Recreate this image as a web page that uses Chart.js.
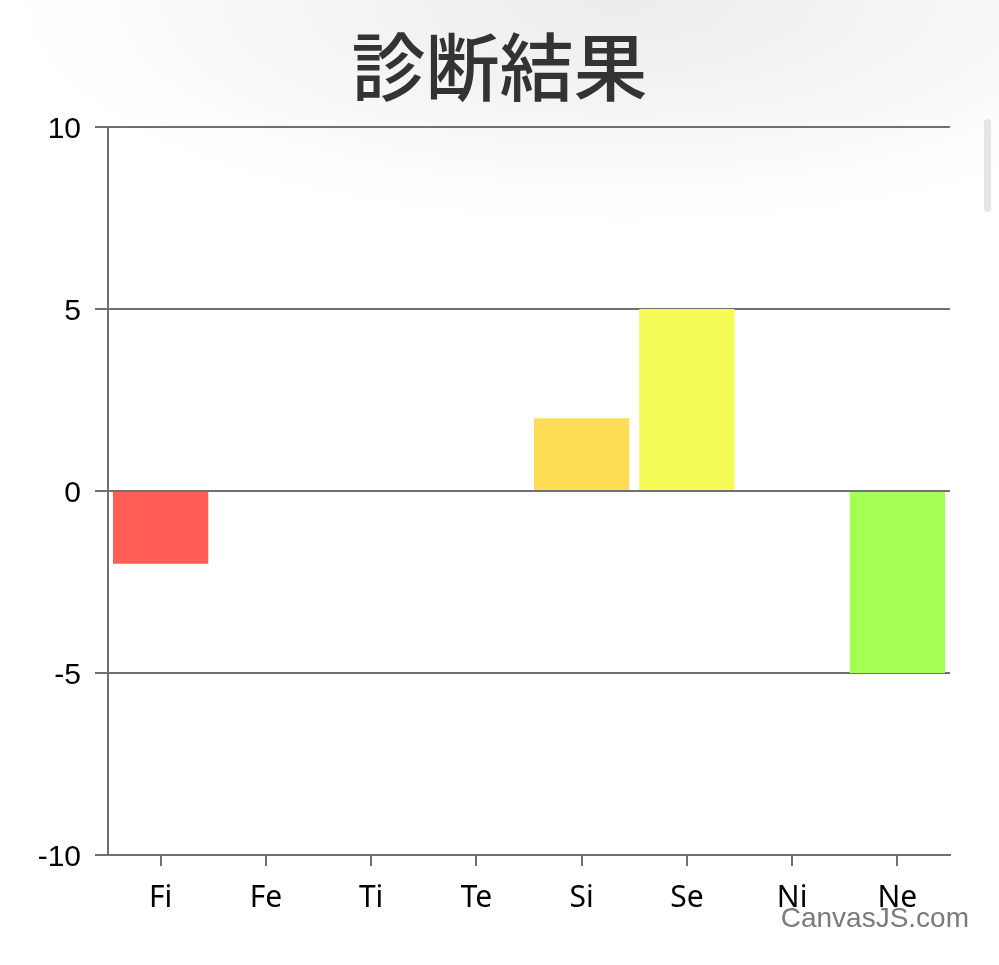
<!DOCTYPE html>
<html>
<head>
<meta charset="utf-8">
<script src="https://cdn.jsdelivr.net/npm/chart.js@4.4.1/dist/chart.umd.min.js"></script>
<style>
  html, body { margin: 0; padding: 0; width: 999px; height: 965px; overflow: hidden; }
  body {
    background:
      radial-gradient(ellipse 620px 230px at 62% 0%, #ececec 0%, #f4f4f4 45%, #fcfcfc 80%, #ffffff 100%),
      #ffffff;
    position: relative;
  }
  #wrap { position: absolute; left: 0; top: 0; width: 999px; height: 965px; }
  #scrollbar { position: absolute; left: 984px; top: 119px; width: 7px; height: 93px; background: #e6e6e6; border-radius: 4px; }
  #credit { position: absolute; right: 30px; top: 903px; font-family: "Liberation Sans", Arial, sans-serif; font-size: 28px; color: #7a7a7a; line-height: 30px; }
</style>
</head>
<body>
<div id="wrap"><canvas id="c" width="999" height="965"></canvas></div>
<div id="scrollbar"></div>
<div id="credit">CanvasJS.com</div>
<script>
const chartTitle = "診断結果";
const categories = ["Fi", "Fe", "Ti", "Te", "Si", "Se", "Ni", "Ne"];
const values = [-2, 0, 0, 0, 2, 5, 0, -5];
const barColors = ["#ff5d56", "#ffdd55", "#ffdd55", "#ffdd55", "#ffdd55", "#f5fb57", "#a6ff55", "#a6ff55"];
const yMin = -10, yMax = 10, yStep = 5;

const gridColor = "#707070";

new Chart(document.getElementById("c"), {
  type: "bar",
  data: {
    labels: categories,
    datasets: [{
      data: values,
      backgroundColor: barColors,
      borderWidth: 0,
      barPercentage: 0.905,
      categoryPercentage: 1.0
    }]
  },
  options: {
    responsive: false,
    devicePixelRatio: 1,
    animation: false,
    events: [],
    layout: { padding: { left: 0, right: 0, top: 0, bottom: 0 } },
    plugins: {
      legend: { display: false },
      tooltip: { enabled: false },
      title: {
        display: true,
        text: chartTitle,
        color: "#333333",
        font: { family: "'Noto Sans CJK JP', 'Noto Sans CJK SC', sans-serif", size: 74, weight: 500, lineHeight: 1 },
        padding: { top: 30, bottom: 23 }
      }
    },
    scales: {
      x: {
        grid: { offset: false, drawOnChartArea: false, drawTicks: true, tickLength: 11, color: gridColor, lineWidth: 2 },
        border: { display: true, color: gridColor, width: 2 },
        ticks: { color: "#000000", padding: 14, font: { family: "'Noto Sans', sans-serif", size: 30 } },
        afterFit: (s) => { s.height = 110; }
      },
      y: {
        min: yMin,
        max: yMax,
        grid: { color: gridColor, lineWidth: 2, tickLength: 13, drawTicks: true },
        border: { display: true, color: gridColor, width: 2 },
        ticks: { stepSize: yStep, color: "#000000", padding: 14, labelOffset: 3, font: { family: "'Liberation Sans', Arial, sans-serif", size: 30 } },
        afterFit: (s) => { s.width = 108; }
      },
      yRight: {
        position: "right",
        min: yMin,
        max: yMax,
        grid: { display: false, drawTicks: false },
        border: { display: false },
        ticks: { display: false },
        afterFit: (s) => { s.width = 49; }
      }
    }
  }
});
</script>
</body>
</html>
